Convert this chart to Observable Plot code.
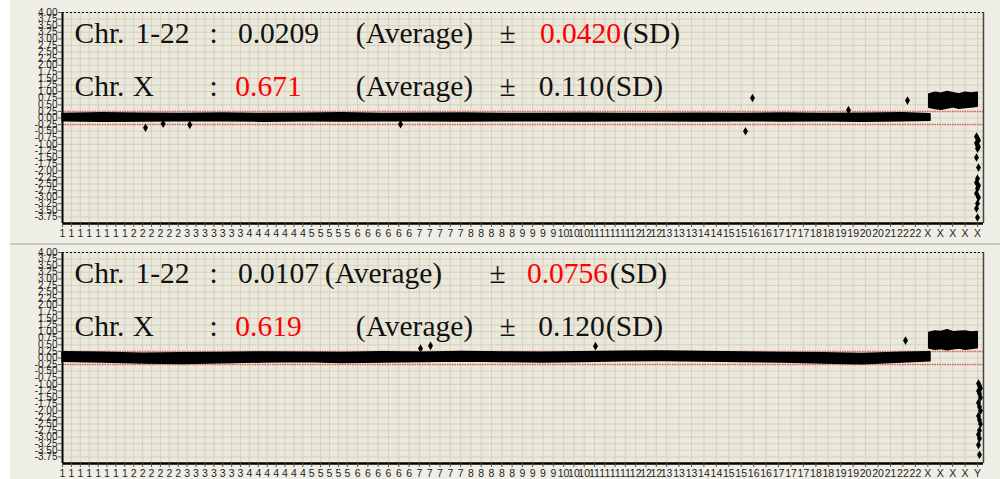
<!DOCTYPE html>
<html>
<head>
<meta charset="utf-8">
<script src="https://cdn.jsdelivr.net/npm/d3@7"></script>
<script src="https://cdn.jsdelivr.net/npm/@observablehq/plot@0.6"></script>
<style>
  body { margin: 0; background: #ffffff; }
  #wrap { position: relative; width: 1000px; height: 479px; overflow: hidden; }
  .panel { position: absolute; left: 10px; }
  #sep { position: absolute; left: 10px; top: 243px; width: 990px; height: 2px; background: #c9c8c0; }
</style>
</head>
<body>
<div id="wrap">
  <div id="p1" class="panel" style="top:0px"></div>
  <div id="sep"></div>
  <div id="p2" class="panel" style="top:245px"></div>
</div>
<script>
// ---- tick data ----
const tickPos = [
  0, 8.9, 17.8, 26.7, 35.6, 44.5, 53.4, 62.3, 71.2, 80.1, 89, 97.9, 106.8, 115.7, 124.6, 133.5,
  142.4, 151.3, 160.2, 169.1, 178, 186.9, 195.8, 204.7, 213.6, 222.5, 231.4, 240.3, 249.2, 258.1,
  267, 275.9, 284.8,
  295.1, 305.4, 315.7, 326, 336.3, 346.6, 356.9, 367.2, 377.5, 387.8, 398.1, 408.4, 418.7, 429,
  439.3, 449.6, 459.9, 470.2, 480.5, 490.8, 501.1, 511.4, 521.7, 532, 542.3, 552.6, 562.9, 573.2,
  583.5, 593.8, 604.1,
  616.5, 629, 641.4, 653.9, 666.3, 678.7, 691.2, 703.6, 716, 728.5, 740.9, 753.4, 765.8, 778.3,
  790.7, 803.1, 815.6, 828, 840.4, 852.9, 865.3, 877.8, 890.2, 902.6, 915.1
];
const tickLabelsTop = [
  "1","1","1","1","1","1","1","1","2","2","2","2","2","2","3","3","3","3","3","3","3",
  "4","4","4","4","4","4","4","5","5","5","5","5",
  "6","6","6","6","6","6","7","7","7","7","7","8","8","8","8","8","9","9","9","9",
  "10","10","10","11","11","11","11","12","12","12","13",
  "13","13","14","14","15","15","16","16","17","17","17","18","18","19","19","20","20",
  "21","22","22","X","X","X","X","X"
];
const tickLabelsBottom = tickLabelsTop.slice(0, -1).concat(["Y"]);
const yTicks = [4, 3.75, 3.5, 3.25, 3, 2.75, 2.5, 2.25, 2, 1.75, 1.5, 1.25, 1, 0.75, 0.5, 0.25, 0,
  -0.25, -0.5, -0.75, -1, -1.25, -1.5, -1.75, -2, -2.25, -2.5, -2.75, -3, -3.25, -3.5, -3.75];
const thresholds = [0.25, -0.25];

// ---- panel 1 data ----
const bandX = [0, 40, 80, 120, 160, 200, 240, 280, 320, 360, 400, 440, 480, 520, 560, 600, 640, 680, 720, 760, 800, 840, 868];
const p1AutoTop = [0.15, 0.18, 0.16, 0.15, 0.17, 0.15, 0.16, 0.18, 0.15, 0.16, 0.17, 0.15, 0.15, 0.16, 0.15, 0.15, 0.16, 0.15, 0.17, 0.15, 0.16, 0.18, 0.14];
const p1AutoBot = [-0.12, -0.14, -0.13, -0.12, -0.12, -0.14, -0.12, -0.13, -0.12, -0.12, -0.13, -0.12, -0.12, -0.13, -0.12, -0.12, -0.13, -0.12, -0.13, -0.12, -0.14, -0.12, -0.1];
const xBandX = [867, 873, 879, 885, 891, 897, 903, 909, 915];
const p1XTop = [0.88, 0.95, 0.91, 0.98, 0.93, 0.88, 0.95, 0.92, 0.95];
const p1XBot = [0.4, 0.35, 0.32, 0.37, 0.42, 0.36, 0.39, 0.41, 0.44];
const p1OutX = [83, 100.7, 127.3, 338, 690, 683, 786, 845];
const p1OutY = [-0.37, -0.22, -0.26, -0.24, 0.76, -0.5, 0.3, 0.66];
const p1YchrX = [914, 915, 916, 914, 915, 916, 915, 914, 916, 915, 914, 916, 915, 914, 916, 915, 914, 915];
const p1YchrY = [-0.7, -0.78, -0.85, -0.95, -1.04, -1.1, -1.16, -1.5, -1.88, -2.3, -2.45, -2.56, -2.67, -2.86, -3.01, -3.24, -3.43, -3.77];

// ---- panel 2 data ----
const p2AutoTop = [0.22, 0.2, 0.16, 0.18, 0.19, 0.21, 0.2, 0.19, 0.22, 0.2, 0.23, 0.21, 0.2, 0.22, 0.24, 0.25, 0.23, 0.21, 0.19, 0.18, 0.15, 0.2, 0.22];
const p2AutoBot = [-0.14, -0.17, -0.21, -0.23, -0.2, -0.17, -0.15, -0.19, -0.17, -0.15, -0.13, -0.15, -0.17, -0.15, -0.12, -0.11, -0.13, -0.15, -0.17, -0.21, -0.24, -0.17, -0.12];
const p2XTop = [0.95, 1.0, 0.98, 1.04, 0.97, 0.99, 1.0, 0.96, 0.98];
const p2XBot = [0.37, 0.32, 0.35, 0.3, 0.34, 0.37, 0.32, 0.35, 0.38];
const p2OutX = [843, 533, 368, 358];
const p2OutY = [0.66, 0.45, 0.46, 0.36];
const p2YchrX = [916, 917, 918, 916, 917, 918, 916, 917, 918, 916, 917, 918, 917, 916, 917, 916, 917];
const p2YchrY = [-0.97, -1.05, -1.15, -1.25, -1.35, -1.5, -1.7, -1.85, -2.0, -2.2, -2.35, -2.5, -2.75, -2.9, -3.05, -3.3, -3.67];

// ---- annotation texts ----
const p1Row1 = ["Chr.", "1-22", ":", "0.0209", "(Average)", "±", "0.0420", "(SD)"];
const p1Row2 = ["Chr.", "X", ":", "0.671", "(Average)", "±", "0.110", "(SD)"];
const p2Row1 = ["Chr.", "1-22", ":", "0.0107", "(Average)", "±", "0.0756", "(SD)"];
const p2Row2 = ["Chr.", "X", ":", "0.619", "(Average)", "±", "0.120", "(SD)"];

function panel(opts) {
  const { height, mTop, mBottom, labels, autoTop, autoBot, xTop, xBot, outX, outY, yX, yY, rows } = opts;
  const labelMap = new Map(tickPos.map((p, i) => [p, labels[i]]));
  const auto = bandX.map((x, i) => ({ x, y1: autoBot[i], y2: autoTop[i] }));
  const xb = xBandX.map((x, i) => ({ x, y1: xBot[i], y2: xTop[i] }));
  const outs = outX.map((x, i) => ({ x, y: outY[i] })).concat(yX.map((x, i) => ({ x, y: yY[i] })));

  // text layout: segment centers, offset from the frame's left edge
  const textMarks = [];
  rows.forEach((row, r) => {
    row.texts.forEach((t, c) => {
      textMarks.push(Plot.text([t], {
        frameAnchor: "top-left",
        dx: row.centers[c],
        dy: r === 0 ? 21 : 74,
        text: d => d,
        fill: row.red === c ? "#ff0000" : "#111111",
        fontSize: 29.5,
        fontFamily: "Liberation Serif",
        textAnchor: "middle",
        lineAnchor: "middle"
      }));
    });
  });

  return Plot.plot({
    width: 990,
    height,
    marginLeft: 52,
    marginRight: 17,
    marginTop: mTop,
    marginBottom: mBottom,
    style: { background: "#efeee6", fontFamily: "Liberation Sans, Arial, sans-serif", overflow: "visible" },
    x: { domain: [0, 921], axis: null },
    y: { domain: [-4, 4], axis: null },
    marks: [
      Plot.frame({ fill: "#ebe9db", stroke: null }),
      Plot.gridX(tickPos, { stroke: "#cfccba", strokeOpacity: 1, strokeWidth: 0.8 }),
      Plot.gridY(yTicks, { stroke: "#cfccba", strokeOpacity: 1, strokeWidth: 0.8 }),
      Plot.ruleY(thresholds, { stroke: "#e0504a", strokeWidth: 1.5, strokeDasharray: "1.5,1", strokeOpacity: 0.85 }),
      Plot.areaY(auto, { x: "x", y1: "y1", y2: "y2", fill: "#000", stroke: "#000", strokeWidth: 1.5 }),
      Plot.areaY(xb, { x: "x", y1: "y1", y2: "y2", fill: "#000", stroke: "#000", strokeWidth: 2 }),
      Plot.dot(outs, { x: "x", y: "y", symbol: "diamond", r: 2.6, fill: "#000" }),
      Plot.ruleY([4], { stroke: "#000", strokeWidth: 1.2, strokeDasharray: "2,2" }),
      Plot.ruleX([921], { stroke: "#444", strokeWidth: 1.5 }),
      Plot.ruleX([0], { stroke: "#000", strokeWidth: 2 }),
      Plot.ruleY([-4], { stroke: "#000", strokeWidth: 2.5 }),
      Plot.axisY({ ticks: yTicks, tickFormat: d => d.toFixed(2), tickSize: 4, tickPadding: 1, fontSize: 10, fill: "#222", stroke: "#555", label: null }),
      Plot.axisX({ ticks: tickPos, tickFormat: d => labelMap.get(d), tickSize: 4, tickPadding: 2, fontSize: 10.5, fill: "#222", stroke: "#555", label: null }),
      ...textMarks
    ]
  });
}

const centersA = [37, 100, 151, 216, 352, 445, 518, 589];
const centersB = [37, 81, 151, 206, 352, 445, 509, 572];
const centersC = [37, 100, 151, 216, 321, 435, 505, 576];

const p1 = panel({
  height: 243, mTop: 12, mBottom: 20, labels: tickLabelsTop,
  autoTop: p1AutoTop, autoBot: p1AutoBot, xTop: p1XTop, xBot: p1XBot,
  outX: p1OutX, outY: p1OutY, yX: p1YchrX, yY: p1YchrY,
  rows: [
    { texts: p1Row1, red: 6, centers: centersA },
    { texts: p1Row2, red: 3, centers: centersB }
  ]
});
document.getElementById("p1").appendChild(p1);

const p2 = panel({
  height: 234, mTop: 7, mBottom: 16, labels: tickLabelsBottom,
  autoTop: p2AutoTop, autoBot: p2AutoBot, xTop: p2XTop, xBot: p2XBot,
  outX: p2OutX, outY: p2OutY, yX: p2YchrX, yY: p2YchrY,
  rows: [
    { texts: p2Row1, red: 6, centers: centersC },
    { texts: p2Row2, red: 3, centers: centersB }
  ]
});
document.getElementById("p2").appendChild(p2);
</script>
</body>
</html>
